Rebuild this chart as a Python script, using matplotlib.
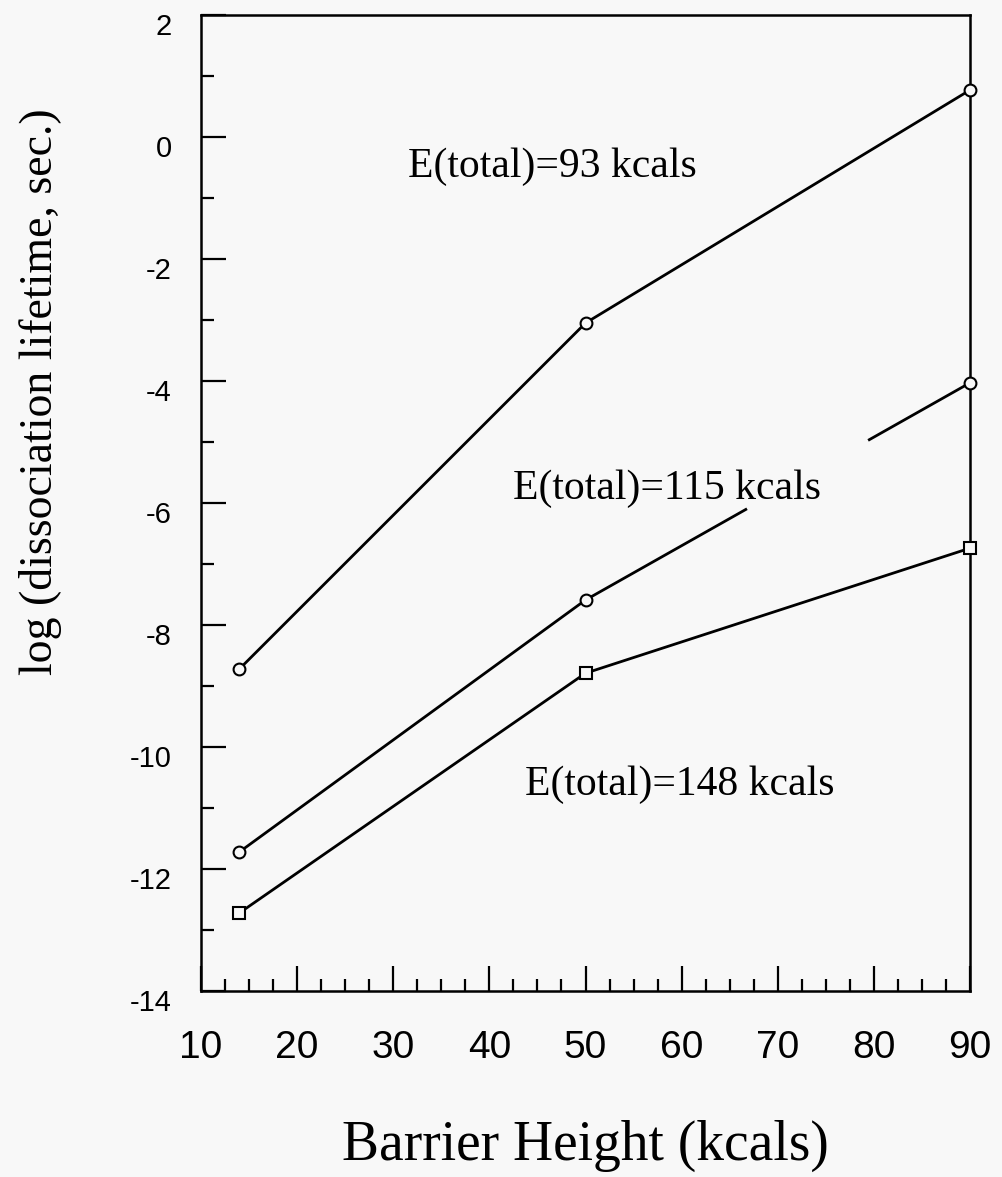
import numpy as np
import matplotlib.pyplot as plt
from matplotlib.ticker import MultipleLocator
import matplotlib.transforms as mtransforms

# Data
barrier = [14, 50, 90]
life_93 = [-8.72, -3.05, 0.77]
life_115 = [-11.72, -7.59, -4.03]
life_148 = [-12.72, -8.79, -6.74]
series_names = ['E(total)=93 kcals', 'E(total)=115 kcals', 'E(total)=148 kcals']

bg = '#f8f8f8'
serif = 'Liberation Serif'
sans = 'Liberation Sans'
plt.rcParams['axes.unicode_minus'] = False

fig = plt.figure(figsize=(10.02, 11.77), dpi=100, facecolor=bg)
ax = fig.add_axes([201 / 1002, 1 - 991 / 1177, 769 / 1002, 976 / 1177])
ax.set_facecolor(bg)

line_kw = dict(color='black', lw=2.0, solid_capstyle='butt')
mark_kw = dict(ls='none', mfc=bg, mec='black', mew=1.5, ms=8.5, clip_on=False, zorder=3)

# top curve
ax.plot(barrier, life_93, **line_kw)
ax.plot(barrier, life_93, marker='o', **mark_kw)

# middle curve, the original has a break in the line between 50 and 90
gap = (66.8, 79.4)
ax.plot(barrier[:2], life_115[:2], **line_kw)
xa = [barrier[1], gap[0]]
xb = [gap[1], barrier[2]]
ax.plot(xa, np.interp(xa, barrier, life_115), **line_kw)
ax.plot(xb, np.interp(xb, barrier, life_115), **line_kw)
ax.plot(barrier, life_115, marker='o', **mark_kw)

# bottom curve
ax.plot(barrier, life_148, **line_kw)
ax.plot(barrier, life_148, marker='s', **mark_kw)

# curve labels
label_pos = [(46.6, -0.66), (58.5, -5.93), (59.8, -10.79)]
for name, (lx, ly) in zip(series_names, label_pos):
    ax.text(lx, ly, name, ha='center', va='baseline', fontsize=30, family=serif)

ax.set_xlim(10, 90)
ax.set_ylim(-14, 2)
ax.xaxis.set_major_locator(MultipleLocator(10))
ax.xaxis.set_minor_locator(MultipleLocator(2.5))
ax.yaxis.set_major_locator(MultipleLocator(2))
ax.yaxis.set_minor_locator(MultipleLocator(1))

for s in ax.spines.values():
    s.set_linewidth(1.8)

ax.tick_params(which='both', direction='in', top=False, right=False, width=1.6)
ax.tick_params(which='major', length=18)
ax.tick_params(which='minor', length=9)
ax.tick_params(axis='x', which='major', pad=28, labelsize=28)
ax.tick_params(axis='y', which='major', pad=21, labelsize=21)
for lab in ax.get_xticklabels():
    lab.set_family(sans)
for lab in ax.get_yticklabels():
    lab.set_family(sans)
    # labels sit a little below their ticks in the original
    lab.set_transform(lab.get_transform() + mtransforms.ScaledTranslation(0, -9 / 100, fig.dpi_scale_trans))

ax.set_xlabel('Barrier Height (kcals)', fontsize=40, family=serif, va='baseline')
ax.xaxis.set_label_coords(0.5, -0.173)
ax.set_ylabel('log (dissociation lifetime, sec.)', fontsize=33, family=serif, va='center')
ax.yaxis.set_label_coords(-0.209, 0.614)

plt.savefig('out.png', dpi=100, facecolor=bg)
plt.close()
